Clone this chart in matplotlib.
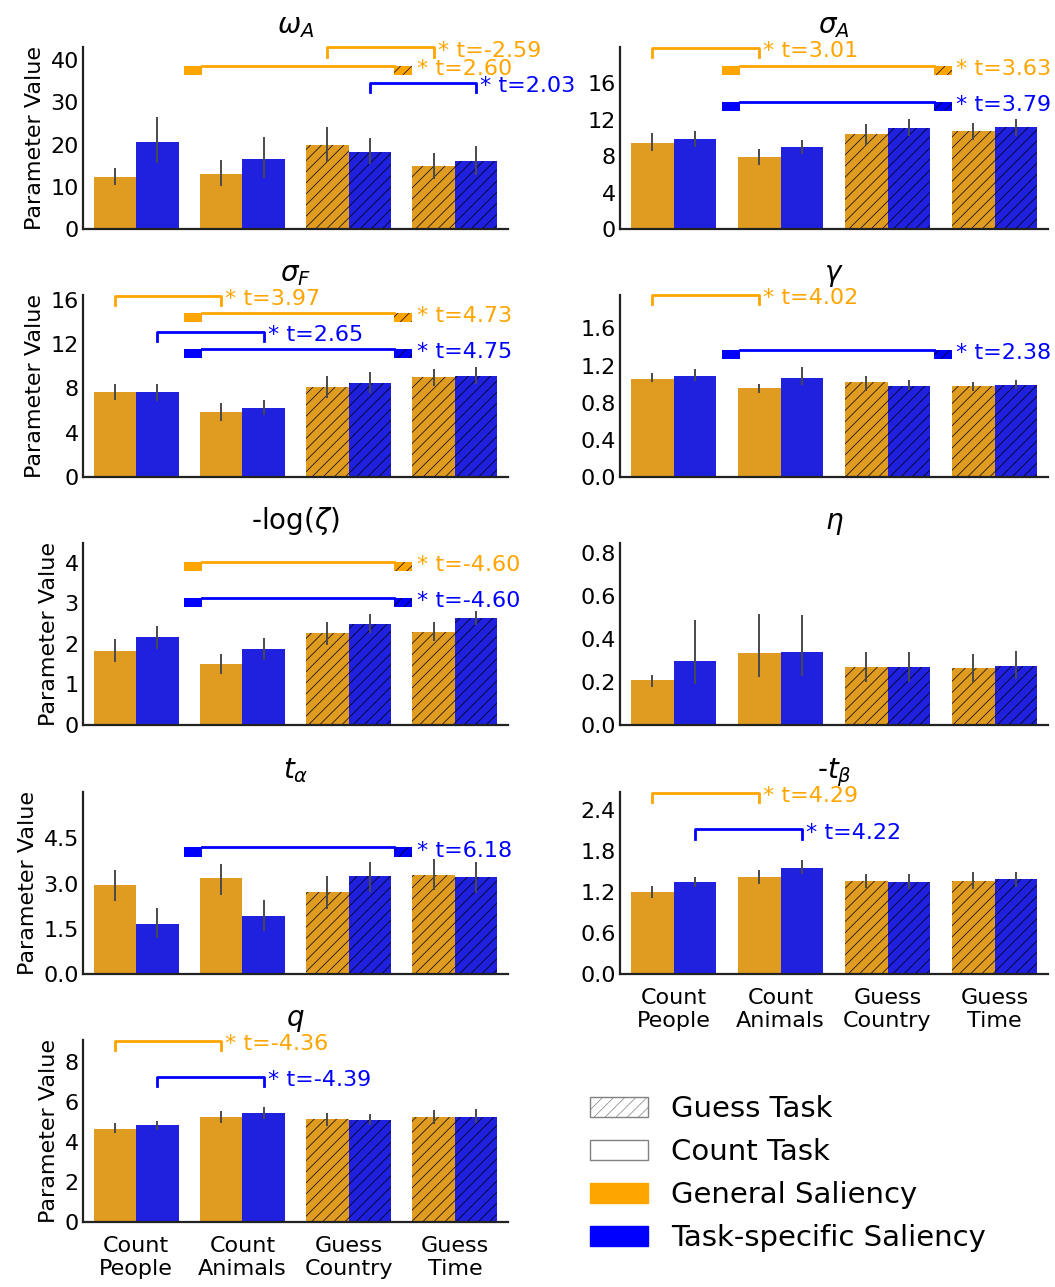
import numpy as np
import matplotlib.pyplot as plt
from matplotlib.patches import Patch, Rectangle

# task categories on the x axis
tasks = ['Count\nPeople', 'Count\nAnimals', 'Guess\nCountry', 'Guess\nTime']
guess_task = [False, False, True, True]

# one row per model parameter
titles = [r'$\omega_A$', r'$\sigma_A$', r'$\sigma_F$', r'$\gamma$', r'-log($\zeta$)',
          r'$\eta$', r'$t_\alpha$', r'-$t_\beta$', r'$q$']

# general saliency: mean and 95% CI
general_mean = [[12.4, 13.0, 20.0, 14.9],
                [9.5, 7.9, 10.4, 10.8],
                [7.7, 5.87, 8.1, 9.0],
                [1.06, 0.96, 1.02, 0.975],
                [1.82, 1.51, 2.26, 2.30],
                [0.208, 0.334, 0.27, 0.264],
                [2.95, 3.17, 2.73, 3.30],
                [1.20, 1.42, 1.36, 1.36],
                [4.65, 5.25, 5.12, 5.23]]
general_lo = [[10.4, 10.1, 15.9, 11.8],
              [8.6, 7.0, 9.2, 9.8],
              [7.0, 5.1, 7.1, 8.2],
              [1.02, 0.906, 0.925, 0.925],
              [1.55, 1.27, 1.98, 2.06],
              [0.178, 0.225, 0.202, 0.202],
              [2.41, 2.61, 2.15, 2.80],
              [1.12, 1.32, 1.26, 1.24],
              [4.42, 4.95, 4.80, 4.90]]
general_hi = [[14.4, 16.3, 24.2, 18.1],
              [10.5, 8.8, 11.5, 11.7],
              [8.4, 6.7, 9.1, 9.8],
              [1.115, 1.0, 1.09, 1.02],
              [2.12, 1.74, 2.53, 2.53],
              [0.234, 0.516, 0.34, 0.33],
              [3.46, 3.66, 3.24, 3.80],
              [1.29, 1.52, 1.47, 1.49],
              [4.92, 5.55, 5.45, 5.57]]

# task-specific saliency: mean and 95% CI
specific_mean = [[20.5, 16.6, 18.3, 16.0],
                 [9.9, 9.0, 11.1, 11.2],
                 [7.65, 6.25, 8.5, 9.1],
                 [1.086, 1.07, 0.985, 0.99],
                 [2.16, 1.88, 2.50, 2.64],
                 [0.30, 0.342, 0.269, 0.275],
                 [1.66, 1.93, 3.25, 3.22],
                 [1.35, 1.56, 1.35, 1.39],
                 [4.82, 5.42, 5.08, 5.25]]
specific_lo = [[15.6, 12.1, 15.5, 12.9],
               [9.0, 8.2, 10.2, 10.2],
               [6.9, 5.6, 7.6, 8.4],
               [1.03, 0.99, 0.935, 0.95],
               [1.88, 1.60, 2.27, 2.46],
               [0.19, 0.23, 0.202, 0.213],
               [1.20, 1.44, 2.72, 2.69],
               [1.27, 1.46, 1.24, 1.27],
               [4.58, 5.15, 4.82, 4.92]]
specific_hi = [[26.5, 21.9, 21.6, 19.6],
               [10.8, 9.8, 12.1, 12.1],
               [8.4, 6.95, 9.5, 9.9],
               [1.16, 1.18, 1.04, 1.04],
               [2.44, 2.15, 2.74, 2.82],
               [0.489, 0.513, 0.34, 0.343],
               [2.20, 2.46, 3.73, 3.71],
               [1.43, 1.67, 1.46, 1.50],
               [5.05, 5.72, 5.38, 5.62]]

ylim_top = [43.1, 20.0, 16.45, 1.96, 4.49, 0.847, 6.04, 2.67, 9.08]
ytick_step = [10, 4, 4, 0.4, 1, 0.2, 1.5, 0.6, 2]
ytick_max = [40, 16, 16, 1.6, 4, 0.8, 4.5, 2.4, 8]

# significant comparisons: (kind, saliency, bar i, bar j, t, bracket height)
# kind 'pair' joins two tasks, 'task' joins count tasks vs guess tasks
comparisons = [
    [('pair', 'general', 2, 3, -2.59, 43.0), ('task', 'general', 0, 0, 2.60, 38.6),
     ('pair', 'specific', 2, 3, 2.03, 34.6)],
    [('pair', 'general', 0, 1, 3.01, 19.9), ('task', 'general', 0, 0, 3.63, 17.9),
     ('task', 'specific', 0, 0, 3.79, 14.0)],
    [('pair', 'general', 0, 1, 3.97, 16.4), ('task', 'general', 0, 0, 4.73, 14.8),
     ('pair', 'specific', 0, 1, 2.65, 13.1), ('task', 'specific', 0, 0, 4.75, 11.55)],
    [('pair', 'general', 0, 1, 4.02, 1.96), ('task', 'specific', 0, 0, 2.38, 1.37)],
    [('task', 'general', 0, 0, -4.60, 4.02), ('task', 'specific', 0, 0, -4.60, 3.13)],
    [],
    [('task', 'specific', 0, 0, 6.18, 4.2)],
    [('pair', 'general', 0, 1, 4.29, 2.66), ('pair', 'specific', 0, 1, 4.22, 2.12)],
    [('pair', 'general', 0, 1, -4.36, 9.03), ('pair', 'specific', 0, 1, -4.39, 7.22)],
]

bar_colors = {'general': '#df9c20', 'specific': '#2020df'}
line_colors = {'general': 'orange', 'specific': 'blue'}
offsets = {'general': -0.2, 'specific': 0.2}
HATCH = '///'

plt.rcParams['hatch.linewidth'] = 0.5

W, H = 1055, 1287
fig = plt.figure(figsize=(W / 100, H / 100), dpi=100)
col_left = [83, 620]
col_width = [425, 428]
row_top = [47, 295, 543, 792, 1040]
ax_h = 182

x = np.arange(len(tasks))

for k in range(len(titles)):
    r, c = divmod(k, 2)
    ax = fig.add_axes([col_left[c] / W, 1 - (row_top[r] + ax_h) / H,
                       col_width[c] / W, ax_h / H])
    for s, mean, lo, hi in [('general', general_mean, general_lo, general_hi),
                            ('specific', specific_mean, specific_lo, specific_hi)]:
        xs = x + offsets[s]
        bars = ax.bar(xs, mean[k], width=0.4, color=bar_colors[s], linewidth=0)
        for b, g in zip(bars, guess_task):
            if g:
                b.set_hatch(HATCH)
        ax.vlines(xs, lo[k], hi[k], color='#4a4a4a', lw=1.4, zorder=3)

    top = ylim_top[k]
    d = 0.05 * top
    for kind, s, i, j, t, y in comparisons[k]:
        col = line_colors[s]
        label = f'* t={t:.2f}'
        if kind == 'pair':
            x1, x2 = i + offsets[s], j + offsets[s]
            ax.plot([x1, x1, x2, x2], [y - d, y, y, y - d], color=col, lw=2,
                    clip_on=False, zorder=4)
        else:
            x1, x2, w = 0.45, 2.6, 0.17
            ax.add_patch(Rectangle((x1, y - d), w, d, facecolor=col, lw=0,
                                   clip_on=False, zorder=4))
            ax.add_patch(Rectangle((x2 - w, y - d), w, d, facecolor=col, hatch=HATCH,
                                   lw=0, clip_on=False, zorder=4))
            ax.plot([x1 + w, x2 - w], [y, y], color=col, lw=2, clip_on=False, zorder=4)
        ax.annotate(label, (x2, y - d), xytext=(3, 0), textcoords='offset points',
                    color=col, fontsize=16, va='baseline', ha='left')

    ax.set_xlim(-0.5, 3.5)
    ax.set_ylim(0, top)
    ticks = np.arange(0, ytick_max[k] + ytick_step[k] / 2, ytick_step[k])
    ax.set_yticks(ticks)
    if ytick_step[k] < 1 or ytick_step[k] == 1.5:
        ax.set_yticklabels([f'{v:.1f}' for v in ticks])
    else:
        ax.set_yticklabels([f'{v:g}' for v in ticks])
    ax.set_xticks(x)
    if k in (7, 8):
        ax.set_xticklabels(tasks, fontsize=16)
    else:
        ax.set_xticklabels([])
    ax.tick_params(axis='y', length=0, pad=3, labelsize=16)
    ax.tick_params(axis='x', length=0, pad=10)
    for side in ('top', 'right'):
        ax.spines[side].set_visible(False)
    for side in ('left', 'bottom'):
        ax.spines[side].set_linewidth(1.6)
        ax.spines[side].set_color('#222222')
    ax.set_title(titles[k], fontsize=20, pad=10)
    if c == 0:
        ax.set_ylabel('Parameter Value', fontsize=16)

handles = [Patch(facecolor='white', edgecolor='grey', hatch=HATCH),
           Patch(facecolor='white', edgecolor='grey'),
           Patch(color='orange'),
           Patch(color='blue')]
labels = ['Guess Task', 'Count Task', 'General Saliency', 'Task-specific Saliency']
fig.legend(handles, labels, loc='upper left', bbox_to_anchor=(590 / W, 1 - 1095 / H),
           frameon=False, fontsize=21, handlelength=2.0, handleheight=0.68,
           handletextpad=0.79, labelspacing=0.52, borderpad=0, borderaxespad=0)

fig.savefig('out.png', dpi=100)
